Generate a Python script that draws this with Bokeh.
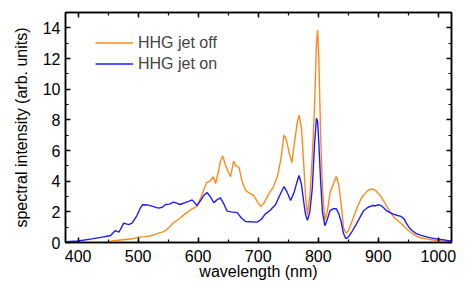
from bokeh.plotting import figure
from bokeh.models import LinearAxis, SingleIntervalTicker, Range1d, Legend, LegendItem, CustomJSTickFormatter
from bokeh.embed import file_html
from bokeh.resources import INLINE

# HHG jet off (orange)
wl_off = [380, 400, 420, 440, 450, 455, 462, 475, 490, 501, 510, 518, 526, 534, 540, 546, 552, 559, 565, 570,
          576, 582, 590, 598, 604, 609, 614, 620, 625, 629, 633, 637, 641, 645, 650, 654, 659, 663, 668, 673,
          679, 686, 693, 698, 704, 710, 718, 725, 732, 738, 743, 746, 748, 752, 756, 760, 765, 768, 772, 776,
          779, 782, 786, 790, 794, 797, 799, 801, 804, 807, 811, 815, 820, 825, 830, 834, 838, 842, 846, 850,
          856, 865, 872, 879, 885, 890, 895, 901, 906, 912, 918, 926, 933, 940, 947, 954, 962, 970, 985, 998,
          1010, 1022]
int_off = [0.0, 0.0, 0.0, 0.01, 0.03, 0.08, 0.13, 0.18, 0.24, 0.35, 0.38, 0.41, 0.5, 0.61, 0.68, 0.78, 1.0, 1.3, 1.45, 1.6,
           1.8, 1.98, 2.2, 2.35, 2.9, 3.4, 3.9, 4.0, 4.3, 3.85, 4.5, 5.3, 5.65, 5.1, 4.6, 4.3, 5.3, 5.0, 4.9, 4.0,
           3.4, 3.2, 3.05, 2.7, 2.35, 2.6, 3.2, 3.6, 4.3, 5.5, 7.0, 6.8, 6.5, 5.8, 5.2, 6.4, 7.8, 8.3, 7.5, 5.0,
           3.0, 1.8, 3.0, 5.5, 9.0, 13.0, 13.85, 12.0, 7.0, 3.5, 1.45, 2.0, 3.3, 3.8, 4.3, 3.8, 2.6, 1.0, 0.6, 0.75,
           1.35, 2.3, 2.9, 3.24, 3.45, 3.5, 3.4, 3.17, 2.9, 2.52, 2.1, 1.65, 1.4, 1.17, 0.9, 0.67, 0.45, 0.31, 0.2, 0.13,
           0.08, 0.05]

# HHG jet on (blue)
wl_on = [380, 400, 423, 440, 454, 462, 468, 476, 484, 490, 498, 503, 507, 515, 523, 534, 540, 546, 552, 559,
         565, 570, 578, 585, 590, 594, 598, 605, 610, 615, 620, 626, 632, 637, 643, 648, 655, 665, 672, 679,
         688, 698, 705, 712, 720, 729, 735, 743, 748, 754, 760, 765, 768, 772, 776, 779, 782, 786, 790, 794,
         797, 799, 801, 804, 807, 811, 815, 820, 825, 830, 834, 838, 842, 846, 850, 856, 862, 869, 876, 883,
         890, 896, 901, 905, 909, 913, 918, 925, 932, 938, 943, 947, 951, 956, 962, 970, 982, 994, 1004, 1015,
         1022]
int_on = [0.05, 0.1, 0.24, 0.35, 0.46, 0.78, 0.67, 1.26, 1.17, 1.26, 1.76, 2.2, 2.46, 2.45, 2.37, 2.24, 2.3, 2.48, 2.5, 2.63,
          2.55, 2.48, 2.6, 2.7, 2.78, 2.6, 2.41, 2.8, 3.1, 3.25, 3.0, 2.6, 2.8, 2.91, 2.5, 2.05, 2.0, 1.95, 1.6, 1.37,
          1.35, 1.33, 1.5, 1.87, 2.1, 2.48, 3.0, 3.65, 3.3, 2.74, 3.3, 4.0, 4.37, 3.8, 2.6, 1.8, 1.45, 2.0, 3.5, 6.5,
          8.1, 7.9, 6.5, 4.0, 2.0, 1.1, 1.5, 2.1, 2.2, 2.2, 1.9, 1.4, 0.6, 0.25, 0.35, 0.7, 1.1, 1.6, 2.09, 2.3,
          2.41, 2.4, 2.46, 2.4, 2.26, 2.1, 1.98, 1.85, 1.76, 1.7, 1.54, 1.25, 1.0, 0.8, 0.61, 0.48, 0.35, 0.25, 0.2, 0.13,
          0.1]

series_labels = ["HHG jet off", "HHG jet on"]
x_label = "wavelength (nm)"
y_label = "spectral intensity (arb. units)"

FONT = "Liberation Sans"
ORANGE = "#ff8a1c"
BLUE = "#1c1cff"

p = figure(width=469, height=282, output_backend="svg", toolbar_location=None,
           x_range=Range1d(379, 1022), y_range=Range1d(0, 15),
           min_border_left=65, min_border_right=18, min_border_top=12, min_border_bottom=40)
p.outline_line_color = "black"
p.outline_line_width = 1.5
p.xgrid.visible = False
p.ygrid.visible = False
p.background_fill_color = "white"
p.border_fill_color = "white"

r_off = p.line(wl_off, int_off, line_color=ORANGE, line_width=1.4)
r_on = p.line(wl_on, int_on, line_color=BLUE, line_width=1.4)

def style(ax):
    ax.major_tick_in = 5
    ax.major_tick_out = 0
    ax.minor_tick_in = 3
    ax.minor_tick_out = 0
    ax.axis_line_width = 1.5
    ax.major_tick_line_width = 1.5
    ax.minor_tick_line_width = 1.2
    ax.axis_line_color = "black"
    ax.major_label_text_font = FONT
    ax.major_label_text_font_size = "16px"
    ax.major_label_text_color = "black"
    ax.axis_label_text_font = FONT
    ax.axis_label_text_font_size = "16px"
    ax.axis_label_text_font_style = "normal"
    ax.axis_label_text_color = "black"

xa = p.xaxis[0]
xa.ticker = SingleIntervalTicker(interval=100, num_minor_ticks=2)
style(xa)
xa.axis_label = x_label
xa.major_label_standoff = 7
xa.axis_label_standoff = -2

ya = p.yaxis[0]
ya.ticker = SingleIntervalTicker(interval=2, num_minor_ticks=2)
style(ya)
ya.axis_label = y_label
ya.major_label_standoff = 5
ya.axis_label_standoff = 10

blank = "return ''"
top = LinearAxis(ticker=SingleIntervalTicker(interval=100, num_minor_ticks=2),
                 formatter=CustomJSTickFormatter(code=blank))
style(top)
top.major_label_standoff = 0
p.add_layout(top, "above")
right = LinearAxis(ticker=SingleIntervalTicker(interval=2, num_minor_ticks=2),
                   formatter=CustomJSTickFormatter(code=blank))
style(right)
right.major_label_standoff = 0
p.add_layout(right, "right")

legend = Legend(items=[LegendItem(label=series_labels[0], renderers=[r_off]),
                       LegendItem(label=series_labels[1], renderers=[r_on])],
                location=(30, 168))
legend.label_text_font = FONT
legend.label_text_font_size = "16px"
legend.glyph_width = 38
legend.glyph_height = 21
legend.label_height = 21
legend.label_standoff = 5
legend.spacing = 0
legend.padding = 0
legend.margin = 0
legend.border_line_color = None
legend.background_fill_alpha = 0
p.add_layout(legend, "center")

open("out.html", "w").write(file_html(p, INLINE))
